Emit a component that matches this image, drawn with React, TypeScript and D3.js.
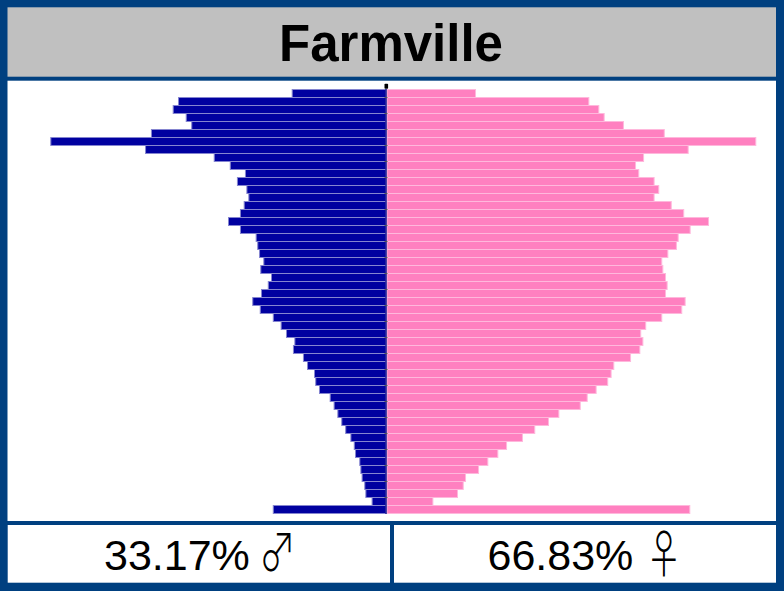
import React from "react";
import * as d3 from "d3";

// Share of total population (%) per age row, top row first
const maleShare = [
  0.523, 1.16, 1.19, 1.117, 1.086, 1.312, 1.876, 1.345, 0.96, 0.87,
  0.785, 0.83, 0.777, 0.766, 0.792, 0.813, 0.88, 0.813, 0.725, 0.716,
  0.706, 0.682, 0.699, 0.639, 0.657, 0.695, 0.744, 0.702, 0.629, 0.585,
  0.555, 0.508, 0.516, 0.46, 0.437, 0.398, 0.391, 0.37, 0.31, 0.288,
  0.267, 0.245, 0.223, 0.194, 0.175, 0.168, 0.144, 0.138, 0.131, 0.116,
  0.11, 0.075, 0.629,
];
const femaleShare = [
  0.499, 1.134, 1.19, 1.22, 1.328, 1.557, 2.07, 1.691, 1.441, 1.396,
  1.414, 1.5, 1.526, 1.5, 1.596, 1.666, 1.805, 1.702, 1.635, 1.625,
  1.577, 1.543, 1.549, 1.564, 1.573, 1.564, 1.674, 1.655, 1.543, 1.453,
  1.425, 1.437, 1.42, 1.368, 1.274, 1.259, 1.24, 1.175, 1.125, 1.086,
  0.966, 0.908, 0.831, 0.762, 0.673, 0.624, 0.568, 0.516, 0.443, 0.43,
  0.398, 0.26, 1.7,
];
const rows = maleShare.map((_, i) => i);
const title = "Farmville";
const maleTotal = "33.17%";
const femaleTotal = "66.83%";
const maleSymbol = "\u2642";
const femaleSymbol = "\u2640";

const W = 784;
const H = 591;
const BORDER = "#004080";
const CX = 386;
const PX_PER_PCT = 178.4;

export default function App() {
  const x = d3
    .scaleLinear()
    .domain([-2, 2])
    .range([CX - 2 * PX_PER_PCT, CX + 2 * PX_PER_PCT]);
  const y = d3.scaleBand<number>().domain(rows).range([89, 513]).padding(0);
  const bh = y.bandwidth();
  const font = "'Liberation Sans', Arial, Helvetica, sans-serif";
  const symFont = "'Noto Sans CJK JP', 'Noto Sans CJK SC', sans-serif";

  return (
    <svg
      width={W}
      height={H}
      style={{ position: "absolute", left: 0, top: 0 }}
      xmlns="http://www.w3.org/2000/svg"
    >
      <rect x={0} y={0} width={W} height={H} fill={BORDER} />
      {/* title */}
      <rect x={7.5} y={7.3} width={768.5} height={69.4} fill="#C0C0C0" />
      <text
        x={391}
        y={61}
        textAnchor="middle"
        fontFamily={font}
        fontWeight="bold"
        fontSize={51}
        fill="#000"
      >
        {title}
      </text>
      {/* chart area */}
      <rect x={7.5} y={80.7} width={768.5} height={440.3} fill="#fff" />
      {rows.map((i) => {
        const left = x(-maleShare[i]) - 1;
        return (
          <rect
            key={"m" + i}
            x={left + 0.5}
            y={(y(i) as number) + 0.5}
            width={CX + 0.5 - (left + 0.5)}
            height={bh}
            fill="#0000A0"
            stroke="#8585d0"
            strokeWidth={1}
          />
        );
      })}
      {rows.map((i) => {
        const right = x(femaleShare[i]) + 1;
        return (
          <rect
            key={"f" + i}
            x={CX + 1}
            y={(y(i) as number) + 0.5}
            width={right - 0.5 - (CX + 1)}
            height={bh}
            fill="#FF80C0"
            stroke="#FFB8DC"
            strokeWidth={1}
          />
        );
      })}
      <line
        x1={CX}
        x2={CX}
        y1={89}
        y2={514}
        stroke="#2a2a9a"
        strokeWidth={1.6}
      />
      {rows
        .filter((i) => i > 0 && i % 2 === 1)
        .map((i) => (
          <line
            key={"t" + i}
            x1={CX - 1.5}
            x2={CX + 1.5}
            y1={(y(i) as number) + 0.5}
            y2={(y(i) as number) + 0.5}
            stroke="#555"
            strokeWidth={1}
          />
        ))}
      <rect x={384.5} y={83.8} width={3.6} height={5} rx={0.8} fill="#000" />
      {/* bottom boxes */}
      <rect x={7.7} y={525} width={382.3} height={57.7} fill="#fff" />
      <rect x={394} y={525} width={382} height={57.7} fill="#fff" />
      <text x={104} y={569.5} fontFamily={font} fontSize={43} fill="#000">
        {maleTotal}
      </text>
      <text
        transform="translate(277.5,571) scale(0.8,1.12)"
        x={0}
        y={0}
        textAnchor="middle"
        fontFamily={symFont}
        fontWeight={300}
        fontSize={46}
        fill="#000"
      >
        {maleSymbol}
      </text>
      <text x={487.5} y={569.5} fontFamily={font} fontSize={43} fill="#000">
        {femaleTotal}
      </text>
      <text
        transform="translate(664,573) scale(0.8,1.12)"
        x={0}
        y={0}
        textAnchor="middle"
        fontFamily={symFont}
        fontWeight={300}
        fontSize={46}
        fill="#000"
      >
        {femaleSymbol}
      </text>
    </svg>
  );
}
